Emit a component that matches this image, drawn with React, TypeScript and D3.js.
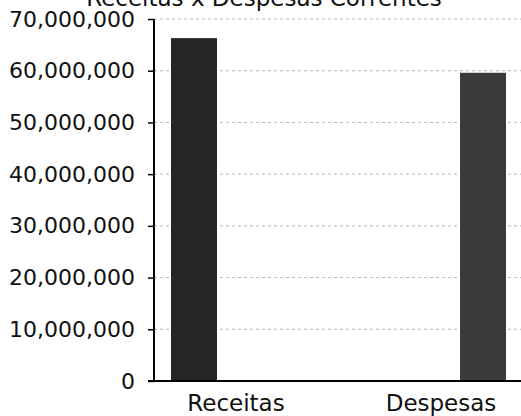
import React, { useEffect, useRef } from 'react';
import { axisLeft, format, scaleLinear, scalePoint, select } from 'd3';

const categories = ['Receitas', 'Despesas'];
const values = [66300000, 59600000];
const barColors = ['#252525', '#3b3b3b'];
const yTicks = [0, 10000000, 20000000, 30000000, 40000000, 50000000, 60000000, 70000000];
const title = 'Receitas x Despesas Correntes';

const App = () => {
  const chartRef = useRef<SVGSVGElement | null>(null);

  useEffect(() => {
    const svg = select(chartRef.current);
    const width = 521;
    const height = 416;
    const axisX = 154;
    const top = 19;
    const bottom = 381;
    const font = '"DejaVu Sans", sans-serif';

    svg.selectAll('*').remove();
    svg.attr('width', width).attr('height', height);

    const x = scalePoint<string>().domain(categories).range([194, 483]);
    // the category labels sit off the bar centres in the original
    const xLabel = scalePoint<string>().domain(categories).range([236, 441]);
    const y = scaleLinear().domain([0, 70000000]).range([bottom, top]);
    const barWidth = 46;

    // grid
    svg
      .append('g')
      .selectAll('line')
      .data(yTicks.filter((d) => d > 0))
      .enter()
      .append('line')
      .attr('x1', axisX)
      .attr('x2', width)
      .attr('y1', (d) => y(d))
      .attr('y2', (d) => y(d))
      .attr('stroke', '#b8b8b8')
      .attr('stroke-width', 1)
      .attr('stroke-dasharray', '3,3');

    svg
      .append('g')
      .selectAll('rect')
      .data(values)
      .enter()
      .append('rect')
      .attr('x', (_, i) => (x(categories[i]) ?? 0) - barWidth / 2)
      .attr('y', (d) => y(d))
      .attr('width', barWidth)
      .attr('height', (d) => bottom - y(d))
      .attr('fill', (_, i) => barColors[i]);

    const yAxis = svg
      .append('g')
      .attr('transform', `translate(${axisX},0)`)
      .call(axisLeft(y).tickValues(yTicks).tickSize(6).tickPadding(13).tickFormat(format(',')));
    yAxis.select('.domain').attr('stroke', '#000').attr('stroke-width', 2).attr('d', `M0,${top}V${bottom}`);
    yAxis.selectAll('.tick line').attr('stroke', '#000').attr('stroke-width', 1.5);
    yAxis.selectAll('.tick text').attr('fill', '#111').style('font-family', font).style('font-size', '22px');

    // x axis line
    svg
      .append('line')
      .attr('x1', axisX - 6)
      .attr('x2', width)
      .attr('y1', bottom)
      .attr('y2', bottom)
      .attr('stroke', '#000')
      .attr('stroke-width', 2);

    svg
      .append('g')
      .selectAll('text')
      .data(categories)
      .enter()
      .append('text')
      .attr('x', (d) => xLabel(d) ?? 0)
      .attr('y', 411)
      .attr('text-anchor', 'middle')
      .attr('fill', '#111')
      .style('font-family', font)
      .style('font-size', '23px')
      .text((d) => d);

    svg
      .append('text')
      .attr('x', 264)
      .attr('y', 6)
      .attr('text-anchor', 'middle')
      .attr('fill', '#111')
      .style('font-family', font)
      .style('font-size', '23px')
      .text(title);
  }, []);

  return (
    <svg
      ref={chartRef}
      style={{ position: 'absolute', left: 0, top: 0, background: '#fff', display: 'block' }}
    />
  );
};

export default App;
